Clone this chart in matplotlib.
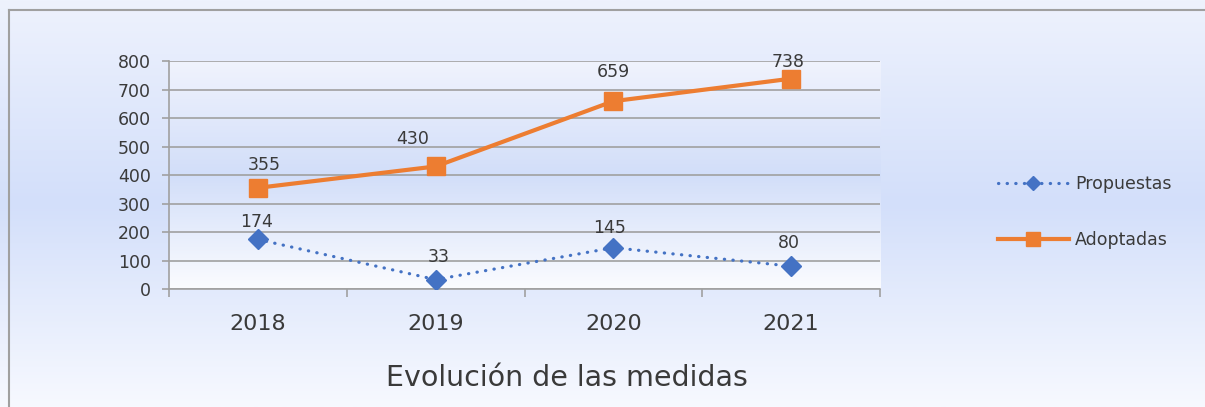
import matplotlib
matplotlib.use("Agg")
import matplotlib.pyplot as plt
import numpy as np
from matplotlib.colors import LinearSegmentedColormap
from matplotlib.lines import Line2D

years = ["2018", "2019", "2020", "2021"]
propuestas = [174, 33, 145, 80]
adoptadas = [355, 430, 659, 738]
yticks = [0, 100, 200, 300, 400, 500, 600, 700, 800]
title = "Evolución de las medidas"

# label offsets (pixels) relative to each marker
adop_off = [(6, 23), (-23, 27), (0, 29), (-3, 17)]
prop_off = [(-1, 17), (3, 23), (-4, 20), (-2, 23)]

plt.rcParams['font.family'] = ['DejaVu Sans']
txt = '#3a3a3a'
blue = '#4472C4'
orange = '#ED7D31'
PX = 0.72  # points per pixel at dpi 100

fig = plt.figure(figsize=(12.05, 4.07), dpi=100)

# figure background gradient
bg = fig.add_axes([0, 0, 1, 1], zorder=-10)
bg_cmap = LinearSegmentedColormap.from_list('bg', [
    (0.0, (247/255, 249/255, 255/255)),
    (0.5, (211/255, 223/255, 250/255)),
    (1.0, (238/255, 242/255, 253/255))])
grad = np.linspace(0, 1, 256).reshape(-1, 1)
bg.imshow(grad, aspect='auto', cmap=bg_cmap, origin='lower', extent=[0, 1, 0, 1])
bg.set_xlim(0, 1); bg.set_ylim(0, 1)
bg.axis('off')
# border (top and left)
fig.add_artist(Line2D([9/1205, 1.02], [1 - 10/407, 1 - 10/407], transform=fig.transFigure,
                      color='#a0a0a0', lw=1.5))
fig.add_artist(Line2D([9/1205, 9/1205], [-0.02, 1 - 10/407], transform=fig.transFigure,
                      color='#a0a0a0', lw=1.5))

ax = fig.add_axes([169/1205, 1 - 289/407, 711/1205, 228/407])
ax.patch.set_alpha(0)
x = np.arange(len(years))
ax.set_xlim(-0.5, len(years) - 0.5)
ax.set_ylim(0, 800)

pa_cmap = LinearSegmentedColormap.from_list('pa', [
    (0.0, (251/255, 252/255, 255/255)),
    (0.5, (210/255, 222/255, 249/255)),
    (1.0, (240/255, 243/255, 253/255))])
ax.imshow(grad, aspect='auto', cmap=pa_cmap, origin='lower',
          extent=[-0.5, len(years) - 0.5, 0, 800], zorder=0)

ax.set_yticks(yticks)
ax.yaxis.grid(True, color='#a0a0a0', lw=1.2, zorder=1)
ax.set_axisbelow(False)
for s in ['top', 'right']:
    ax.spines[s].set_visible(False)
for s in ['left', 'bottom']:
    ax.spines[s].set_color('#a0a0a0')
    ax.spines[s].set_linewidth(1.2)

ax.plot(x, adoptadas, color=orange, lw=3, marker='s', ms=12.5, label='Adoptadas', zorder=4)
ax.plot(x, propuestas, color=blue, lw=2.3, linestyle=(0, (0.1, 2.6)),
        dash_capstyle='round', marker='D', ms=10, label='Propuestas', zorder=4)

for xi, v, (dx, dy) in zip(x, adoptadas, adop_off):
    ax.annotate(str(v), (xi, v), xytext=(dx * PX, dy * PX), textcoords='offset points',
                ha='center', va='center', fontsize=12.5, color=txt, zorder=5)
for xi, v, (dx, dy) in zip(x, propuestas, prop_off):
    ax.annotate(str(v), (xi, v), xytext=(dx * PX, dy * PX), textcoords='offset points',
                ha='center', va='center', fontsize=12.5, color=txt, zorder=5)

ax.set_xticks(x)
ax.set_xticklabels(years, fontsize=16, color=txt)
ax.set_xticks(np.arange(-0.5, len(years)), minor=True)
ax.tick_params(axis='x', which='major', length=0, pad=18)
ax.tick_params(axis='x', which='minor', length=6, color='#a0a0a0', width=1.2)
ax.tick_params(axis='y', length=5, color='#a0a0a0', width=1.2, labelsize=12.5,
               labelcolor=txt, pad=8)

fig.text(567/1205, 1 - 378/407, title, ha='center', va='center', fontsize=20.5, color=txt)

handles, labels = ax.get_legend_handles_labels()
leg = fig.legend(handles[::-1], labels[::-1], loc='center left',
                 bbox_to_anchor=(982/1205, 1 - 212/407), frameon=False,
                 fontsize=12.5, labelspacing=2.2, handlelength=4.1,
                 handletextpad=0.35, labelcolor=txt, markerscale=0.75)

fig.savefig('out.png', dpi=100)
